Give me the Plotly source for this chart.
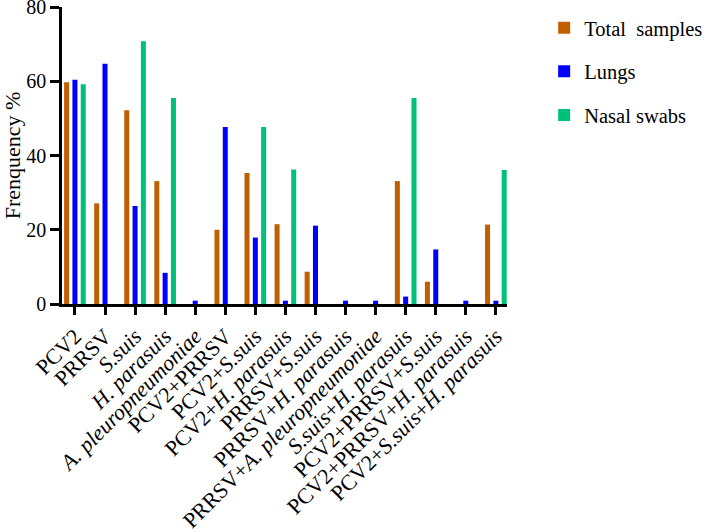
import plotly.graph_objects as go

categories = [
    "PCV2", "PRRSV", "S.suis", "H. parasuis", "A. pleuropneumoniae",
    "PCV2+PRRSV", "PCV2+S.suis", "PCV2+H. parasuis", "PRRSV+S.suis",
    "PRRSV+H. parasuis", "PRRSV+A. pleuropneumoniae", "S.suis+H. parasuis",
    "PCV2+PRRSV+S.suis", "PCV2+PRRSV+H. parasuis", "PCV2+S.suis+H. parasuis",
]
tick_labels = [
    "PCV2", "PRRSV", "<i>S.suis</i>", "<i>H. parasuis</i>", "<i>A. pleuropneumoniae</i>",
    "PCV2+PRRSV", "PCV2+<i>S.suis</i>", "PCV2+<i>H. parasuis</i>", "PRRSV+<i>S.suis</i>",
    "PRRSV+<i>H. parasuis</i>", "PRRSV+<i>A. pleuropneumoniae</i>",
    "<i>S.suis</i>+<i>H. parasuis</i>", "PCV2+PRRSV+<i>S.suis</i>",
    "PCV2+PRRSV+<i>H. parasuis</i>", "PCV2+<i>S.suis</i>+<i>H. parasuis</i>",
]
total_samples = [59.7, 27.1, 52.2, 33.1, 0, 20.0, 35.3, 21.5, 8.7, 0, 0, 33.1, 6.0, 0, 21.4]
lungs = [60.4, 64.7, 26.4, 8.4, 0.9, 47.7, 17.9, 0.9, 21.1, 0.9, 0.9, 2.0, 14.7, 0.9, 0.9]
nasal_swabs = [59.2, 0, 70.8, 55.5, 0, 0, 47.7, 36.2, 0, 0, 0, 55.5, 0, 0, 36.1]

series = [
    ("Total  samples", total_samples, "#C05F00"),
    ("Lungs", lungs, "#0000FF"),
    ("Nasal swabs", nasal_swabs, "#00C07A"),
]

ff = "Liberation Serif"

fig = go.Figure()
for i, (name, vals, color) in enumerate(series):
    fig.add_trace(go.Bar(
        x=categories, y=vals, name=name,
        marker=dict(color=color, line=dict(width=0)),
        width=0.167, legendgroup=f"g{i}",
    ))

fig.update_layout(
    width=709, height=532,
    barmode="group", bargap=0.17,
    plot_bgcolor="white", paper_bgcolor="white",
    margin=dict(l=62, r=202, t=7, b=228, autoexpand=False),
    font=dict(family=ff, size=20, color="black"),
    showlegend=True,
    legend=dict(
        x=1.0835, xanchor="left", y=0.997, yanchor="top",
        font=dict(family=ff, size=20.5, color="black"),
        traceorder="grouped", tracegroupgap=14,
        bgcolor="rgba(0,0,0,0)",
    ),
)
fig.update_xaxes(
    type="category", automargin=False,
    tickmode="array", tickvals=categories, ticktext=tick_labels,
    tickangle=-45, tickfont=dict(family=ff, size=22, color="black"),
    range=[-0.43, 14.37],
    showline=True, linecolor="black", linewidth=2.5,
    ticks="outside", ticklen=8, tickwidth=2.5, tickcolor="black",
    showgrid=False, zeroline=False,
)
fig.update_yaxes(
    automargin=False, ticklabeloverflow="allow",
    range=[0, 80], tickvals=[0, 20, 40, 60, 80],
    tickfont=dict(family=ff, size=20, color="black"),
    showline=True, linecolor="black", linewidth=2.5,
    ticks="outside", ticklen=9, tickwidth=2.5, tickcolor="black",
    showgrid=False, zeroline=False,
    title=dict(text="Frenquency %", font=dict(family=ff, size=22, color="black"), standoff=4),
)

fig.write_html(
    "out.html",
    config={"displayModeBar": False},
    post_script="document.body.style.margin='0px';",
)
